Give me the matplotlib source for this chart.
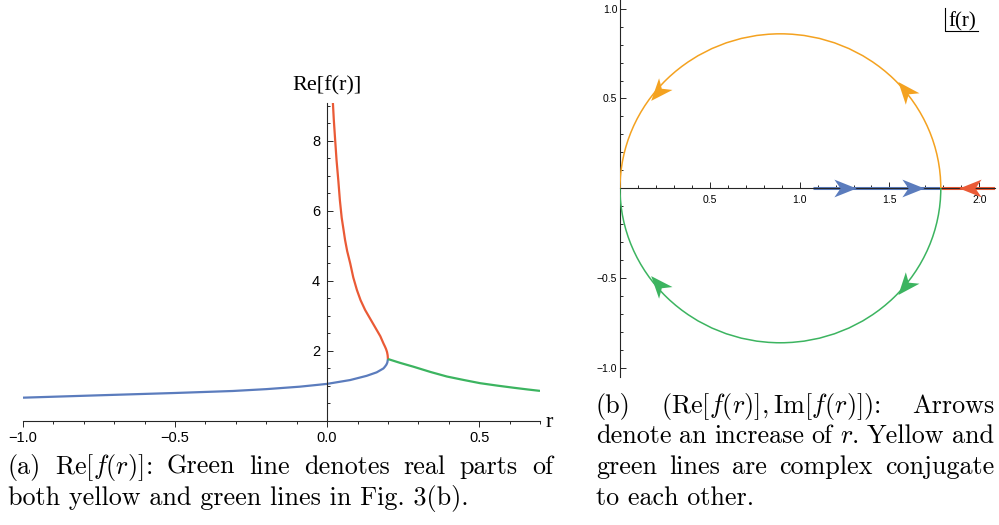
import numpy as np
import matplotlib.pyplot as plt
from matplotlib.patches import Arc
from matplotlib.markers import MarkerStyle
from matplotlib.path import Path
from matplotlib.transforms import Affine2D
from matplotlib.ticker import MultipleLocator

plt.rcParams['mathtext.fontset'] = 'cm'

W, H = 999, 525
BLUE = '#5b7cbd'
RED = '#ea5a36'
GREEN = '#3cb460'
ORANGE = '#f4a220'
AXIS = '#262626'

# Re[f(r)] on its three branches, (r, value)
blue_r = [-1.0, -0.75, -0.5, -0.31, -0.2, -0.09, 0.0, 0.076, 0.13, 0.163, 0.185, 0.19, 0.195, 0.198, 0.2]
blue_f = [0.666, 0.734, 0.80, 0.857, 0.91, 0.98, 1.06, 1.17, 1.29, 1.39, 1.50, 1.55, 1.61, 1.67, 1.77]
red_r = [0.2, 0.199, 0.197, 0.194, 0.19, 0.185, 0.175, 0.163, 0.145, 0.125, 0.11, 0.098, 0.086,
         0.076, 0.066, 0.059, 0.054, 0.048, 0.042, 0.037, 0.031, 0.026, 0.022, 0.019]
red_f = [1.77, 1.88, 1.97, 2.05, 2.13, 2.22, 2.42, 2.60, 2.87, 3.17, 3.45, 3.74, 4.10,
         4.50, 4.85, 5.17, 5.46, 5.80, 6.30, 6.85, 7.45, 8.08, 8.60, 9.09]
green_r = [0.2, 0.24, 0.284, 0.34, 0.394, 0.45, 0.503, 0.56, 0.613, 0.66, 0.7]
green_f = [1.77, 1.66, 1.55, 1.40, 1.27, 1.17, 1.08, 1.01, 0.95, 0.90, 0.86]

left_xticks = [-1.0, -0.5, 0.0, 0.5]
left_xlabels = ['\u22121.0', '\u22120.5', '0.0', '0.5']
left_yticks = [2, 4, 6, 8]

# (Re f, Im f): the complex pair traces a closed loop, the real branches lie on the axis
loop_center = (0.893, 0.0)
loop_width = 1.786
loop_height = 1.72
blue_re = [1.076, 1.786]
red_re = [1.786, 2.09]

# arrowheads: position, heading (deg) and colour
arrow_x = [1.25, 1.63, 1.95, 1.585, 0.21, 0.21, 1.585]
arrow_y = [0.0, 0.0, 0.0, 0.545, 0.535, -0.535, -0.545]
arrow_deg = [0, 0, 180, 130, 229, 131, 230]
arrow_col = [BLUE, BLUE, RED, ORANGE, ORANGE, GREEN, GREEN]

right_xticks = [0.5, 1.0, 1.5, 2.0]
right_xlabels = ['0.5', '1.0', '1.5', '2.0']
right_yticks = [-1.0, -0.5, 0.5, 1.0]
right_ylabels = ['\u22121.0', '\u22120.5', '0.5', '1.0']

fig = plt.figure(figsize=(W / 100, H / 100), dpi=100)


def frac(x, y):
    return x / W, 1 - y / H


def axes_px(x0, y0, x1, y1):
    return fig.add_axes([x0 / W, 1 - y1 / H, (x1 - x0) / W, (y1 - y0) / H])


def style_axes(ax):
    for s in ['top', 'right']:
        ax.spines[s].set_visible(False)
    for s in ['left', 'bottom']:
        ax.spines[s].set_color(AXIS)
        ax.spines[s].set_linewidth(0.8)
    ax.patch.set_alpha(0)
    ax.tick_params(which='both', colors=AXIS, width=0.7)
    for lab in ax.get_xticklabels() + ax.get_yticklabels():
        lab.set_color('black')


# ---- left panel ----
ax1 = axes_px(23, 102.7, 540, 421)
ax1.set_xlim(-1.0, 0.7)
ax1.set_ylim(0, 9.09)
ax1.plot(blue_r, blue_f, color=BLUE, lw=1.6, solid_capstyle='butt')
ax1.plot(red_r, red_f, color=RED, lw=1.6, solid_capstyle='butt')
ax1.plot(green_r, green_f, color=GREEN, lw=1.6, solid_capstyle='butt')
ax1.spines['left'].set_position(('data', 0))
ax1.set_xticks(left_xticks)
ax1.set_xticklabels(left_xlabels, fontfamily='Liberation Sans', fontsize=10.5)
ax1.set_yticks(left_yticks)
ax1.set_yticklabels([str(v) for v in left_yticks], fontfamily='Liberation Sans', fontsize=10.5)
ax1.xaxis.set_minor_locator(MultipleLocator(0.1))
ax1.yaxis.set_minor_locator(MultipleLocator(0.5))
ax1.tick_params(axis='x', which='major', direction='out', length=4, pad=3)
ax1.tick_params(axis='x', which='minor', direction='out', length=2.5)
ax1.tick_params(axis='y', which='major', direction='in', length=4, pad=5)
ax1.tick_params(axis='y', which='minor', direction='in', length=2.5)
style_axes(ax1)
fig.text(*frac(327, 86), 'Re[f(r)]', fontfamily='Liberation Serif', fontsize=16,
         ha='center', va='center')
fig.text(*frac(546, 427), 'r', fontfamily='Liberation Serif', fontsize=16,
         ha='left', va='baseline')

# ---- right panel ----
ax2 = axes_px(620, -0.3, 995.4, 376.9)
ax2.set_xlim(0, 2.09)
ax2.set_ylim(-1.05, 1.05)
ax2.set_aspect('equal', adjustable='box')
ax2.add_patch(Arc(loop_center, loop_width, loop_height, theta1=0, theta2=180,
                  color=ORANGE, lw=1.1, zorder=3))
ax2.add_patch(Arc(loop_center, loop_width, loop_height, theta1=180, theta2=360,
                  color=GREEN, lw=1.1, zorder=3))
# real branches sit under the axis line
ax2.plot(blue_re, [0, 0], color=BLUE, lw=2.2, zorder=2, solid_capstyle='butt')
ax2.plot(red_re, [0, 0], color=RED, lw=2.2, zorder=2, solid_capstyle='butt')

head = Path([(1, 0), (-1, 0.8), (-0.45, 0), (-1, -0.8), (1, 0)],
            [Path.MOVETO, Path.LINETO, Path.LINETO, Path.LINETO, Path.CLOSEPOLY])
for x, y, a, c in zip(arrow_x, arrow_y, arrow_deg, arrow_col):
    m = MarkerStyle(head, transform=Affine2D().rotate_deg(a))
    ax2.plot([x], [y], marker=m, markersize=16, color=c, markeredgewidth=0,
             linestyle='none', zorder=5)

ax2.spines['bottom'].set_position(('data', 0))
ax2.set_xticks(right_xticks)
ax2.set_xticklabels(right_xlabels, fontfamily='Liberation Sans', fontsize=7.5)
ax2.set_yticks(right_yticks)
ax2.set_yticklabels(right_ylabels, fontfamily='Liberation Sans', fontsize=7.5)
ax2.xaxis.set_minor_locator(MultipleLocator(0.1))
ax2.yaxis.set_minor_locator(MultipleLocator(0.1))
ax2.tick_params(axis='x', which='major', direction='in', length=4, pad=4.5)
ax2.tick_params(axis='x', which='minor', direction='in', length=2.5)
ax2.tick_params(axis='y', which='major', direction='in', length=4, pad=2)
ax2.tick_params(axis='y', which='minor', direction='in', length=2.5)
style_axes(ax2)

fig.text(*frac(948, 26), 'f(r)', fontfamily='Liberation Serif', fontsize=15,
         ha='left', va='baseline')
fig.add_artist(plt.Line2D([945 / W, 945 / W, 978 / W], [1 - 8 / H, 1 - 31 / H, 1 - 31 / H],
                          color='black', lw=0.8))

# ---- captions ----
CAP = dict(fontfamily='cmr10', fontsize=18.8, va='baseline', ha='left')
renderer = fig.canvas.get_renderer()


def justified(words, x0, x1, y):
    texts = [fig.text(0, 1 - y / H, w, **CAP) for w in words]
    widths = [t.get_window_extent(renderer).width for t in texts]
    gap = (x1 - x0 - sum(widths)) / (len(words) - 1)
    x = x0
    for t, w in zip(texts, widths):
        t.set_x(x / W)
        x += w + gap


justified(['(a)', r'$\mathrm{Re}[f(r)]$:', 'Green', 'line', 'denotes', 'real', 'parts', 'of'],
          8, 553, 474)
fig.text(*frac(8, 505), 'both yellow and green lines in Fig. 3(b).', **CAP)

justified(['(b)', r'$(\mathrm{Re}[f(r)],\mathrm{Im}[f(r)])$:', 'Arrows'], 596, 994, 413)
justified(['denote', 'an', 'increase', 'of', r'$r$.', 'Yellow', 'and'], 596, 994, 443)
justified(['green', 'lines', 'are', 'complex', 'conjugate'], 596, 994, 474)
fig.text(*frac(596, 505), 'to each other.', **CAP)

fig.savefig('out.png', dpi=100)
